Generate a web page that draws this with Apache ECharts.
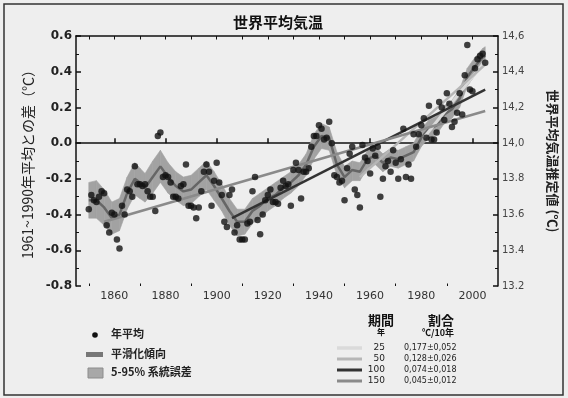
<!DOCTYPE html>
<html>
<head>
<meta charset="utf-8">
<script src="https://cdn.jsdelivr.net/npm/echarts@6.0.0/dist/echarts.min.js"></script>
<style>
  html, body { margin: 0; padding: 0; background: #eeeeee; }
  #chart { width: 568px; height: 398px; }
</style>
</head>
<body>
<div id="chart"></div>
<script>
// annual anomalies vs 1961-1990 mean, one value per year from 1850
const firstYear = 1850;
const annualValues = [
  -0.37, -0.29, -0.32, -0.33, -0.30, -0.27, -0.28, -0.46, -0.50, -0.39,
  -0.40, -0.54, -0.59, -0.35, -0.40, -0.26, -0.27, -0.30, -0.13, -0.23,
  -0.23, -0.24, -0.23, -0.27, -0.30, -0.30, -0.38, 0.04, 0.06, -0.19,
  -0.18, -0.19, -0.22, -0.30, -0.30, -0.31, -0.24, -0.23, -0.12, -0.35,
  -0.35, -0.36, -0.42, -0.36, -0.27, -0.16, -0.12, -0.16, -0.35, -0.21,
  -0.11, -0.22, -0.29, -0.44, -0.47, -0.29, -0.26, -0.50, -0.46, -0.54,
  -0.54, -0.54, -0.45, -0.44, -0.27, -0.19, -0.43, -0.51, -0.40, -0.32,
  -0.29, -0.26, -0.33, -0.33, -0.34, -0.25, -0.21, -0.24, -0.23, -0.35,
  -0.15, -0.11, -0.15, -0.31, -0.16, -0.16, -0.14, -0.02, 0.04, 0.04,
  0.10, 0.08, 0.02, 0.03, 0.12, 0.00, -0.18, -0.19, -0.22, -0.21,
  -0.32, -0.14, -0.06, -0.02, -0.26, -0.29, -0.36, -0.01, -0.08, -0.10,
  -0.17, -0.03, -0.07, -0.02, -0.30, -0.20, -0.13, -0.10, -0.16, -0.04,
  -0.11, -0.20, -0.09, 0.08, -0.19, -0.12, -0.20, 0.05, -0.02, 0.05,
  0.10, 0.14, 0.03, 0.21, 0.02, 0.02, 0.06, 0.23, 0.20, 0.13,
  0.28, 0.22, 0.09, 0.12, 0.17, 0.28, 0.16, 0.38, 0.55, 0.30,
  0.29, 0.42, 0.47, 0.49, 0.50, 0.45
];

// decadal smoothing and its 5-95% band
const smoothYears = [1850, 1853, 1856, 1859, 1862, 1865, 1868, 1870, 1872, 1875, 1878, 1881, 1884, 1887,
  1890, 1893, 1896, 1899, 1902, 1905, 1908, 1911, 1914, 1917, 1920, 1923, 1926, 1929, 1932, 1935,
  1938, 1941, 1944, 1947, 1950, 1953, 1956, 1959, 1962, 1965, 1968, 1971, 1974, 1977, 1980, 1983,
  1986, 1989, 1992, 1995, 1998, 2001, 2004, 2005];
const smoothValues = [-0.32, -0.32, -0.36, -0.42, -0.40, -0.28, -0.20, -0.22, -0.25, -0.19, -0.13, -0.19, -0.24, -0.27,
  -0.26, -0.22, -0.18, -0.24, -0.31, -0.38, -0.44, -0.44, -0.38, -0.35, -0.31, -0.29, -0.25, -0.22, -0.18, -0.12,
  -0.02, 0.04, 0.03, -0.12, -0.19, -0.15, -0.16, -0.09, -0.07, -0.11, -0.08, -0.09, -0.07, -0.05, 0.03, 0.08,
  0.10, 0.16, 0.19, 0.25, 0.37, 0.43, 0.48, 0.49];
const bandLow = [-0.42, -0.42, -0.46, -0.51, -0.49, -0.37, -0.29, -0.31, -0.33, -0.28, -0.22, -0.28, -0.32, -0.35,
  -0.34, -0.30, -0.26, -0.32, -0.38, -0.46, -0.52, -0.51, -0.45, -0.42, -0.38, -0.35, -0.31, -0.28, -0.24, -0.18,
  -0.09, -0.03, -0.04, -0.18, -0.25, -0.21, -0.21, -0.14, -0.12, -0.16, -0.13, -0.14, -0.12, -0.10, -0.02, 0.03,
  0.05, 0.11, 0.14, 0.20, 0.32, 0.38, 0.43, 0.44];
const bandHigh = [-0.22, -0.21, -0.26, -0.33, -0.31, -0.19, -0.11, -0.14, -0.17, -0.10, -0.04, -0.11, -0.16, -0.19,
  -0.18, -0.14, -0.10, -0.16, -0.23, -0.31, -0.37, -0.37, -0.31, -0.28, -0.25, -0.22, -0.19, -0.16, -0.12, -0.06,
  0.05, 0.11, 0.09, -0.05, -0.13, -0.10, -0.11, -0.04, -0.02, -0.06, -0.03, -0.04, -0.02, 0.00, 0.08, 0.13,
  0.15, 0.21, 0.24, 0.30, 0.42, 0.48, 0.53, 0.54];

// linear trends over the last 25/50/100/150 years
const trendPeriods = ['25', '50', '100', '150'];
const trendRates = ['0,177±0,052', '0,128±0,026', '0,074±0,018', '0,045±0,012'];
const trendStartYears = [1981, 1956, 1906, 1856];
const trendStartValues = [0.03, -0.19, -0.42, -0.44];
const trendEndYear = 2005;
const trendEndValues = [0.46, 0.44, 0.30, 0.18];
const trendColors = ['#dadada', '#b6b6b6', '#333333', '#8a8a8a'];
const trendWidths = [3, 2.5, 2.5, 2.5];

const xLabelYears = [1860, 1880, 1900, 1920, 1940, 1960, 1980, 2000];
const xMinorYears = [1850, 1870, 1890, 1910, 1930, 1950, 1970, 1990];
const xTopYears = [1850, 1860, 1870, 1880, 1890, 1900, 1910, 1920, 1930, 1940, 1950, 1960, 1970, 1980, 1990, 2000];
const rightTickLabels = ['13.2', '13.4', '13.6', '13.8', '14,0', '14,2', '14,4', '14,6'];

const cjk = '"Noto Sans CJK JP", sans-serif';
const latin = '"DejaVu Sans", sans-serif';

const annual = annualValues.map((v, i) => [firstYear + i, v]);
const smooth = smoothYears.map((y, i) => [y, smoothValues[i]]);
// each band item is one segment: [x0, low0, high0, x1, low1, high1]
const bandSegments = smoothYears.slice(0, -1).map((y, i) =>
  [y, bandLow[i], bandHigh[i], smoothYears[i + 1], bandLow[i + 1], bandHigh[i + 1]]);

const trendSeries = trendPeriods.map((p, i) => ({
  name: p + '年',
  type: 'line',
  data: [[trendStartYears[i], trendStartValues[i]], [trendEndYear, trendEndValues[i]]],
  symbol: 'none',
  lineStyle: { color: trendColors[i], width: trendWidths[i] },
  z: 3,
  silent: true
}));

const chart = echarts.init(document.getElementById('chart'));

const legendLeft = [
  { type: 'circle', shape: { cx: 95, cy: 335, r: 2.8 }, style: { fill: '#111' } },
  { type: 'text', left: 111, top: 328, style: { text: '年平均', font: 'bold 11px ' + cjk, fill: '#222' } },
  { type: 'rect', shape: { x: 86, y: 352, width: 17, height: 5 }, style: { fill: '#777' } },
  { type: 'text', left: 111, top: 348, style: { text: '平滑化傾向', font: 'bold 11px ' + cjk, fill: '#222' } },
  { type: 'rect', shape: { x: 88, y: 368, width: 15, height: 10 }, style: { fill: '#a8a8a8', stroke: '#8c8c8c', lineWidth: 1 } },
  { type: 'text', left: 111, top: 366, style: { text: '5-95% 系統誤差', font: 'bold 11px ' + cjk, fill: '#222' } }
];

const legendTable = [
  { type: 'text', x: 381, y: 320, style: { text: '期間', font: 'bold 13px ' + cjk, fill: '#111', align: 'center', verticalAlign: 'middle' } },
  { type: 'text', x: 441, y: 320, style: { text: '割合', font: 'bold 13px ' + cjk, fill: '#111', align: 'center', verticalAlign: 'middle' } },
  { type: 'text', x: 381, y: 332, style: { text: '年', font: 'bold 8px ' + cjk, fill: '#111', align: 'center', verticalAlign: 'middle' } },
  { type: 'text', x: 438, y: 333, style: { text: '℃/10年', font: 'bold 9px ' + cjk, fill: '#111', align: 'center', verticalAlign: 'middle' } }
];
trendPeriods.forEach((p, i) => {
  const y = 348 + i * 11;
  legendTable.push(
    { type: 'line', shape: { x1: 337, y1: y, x2: 362, y2: y }, style: { stroke: trendColors[i], lineWidth: trendWidths[i] + 0.5 } },
    { type: 'text', x: 385, y: y, style: { text: p, font: '9px ' + latin, fill: '#222', align: 'right', verticalAlign: 'middle' } },
    { type: 'text', x: 404, y: y, style: { text: trendRates[i], font: '8px ' + latin, fill: '#222', align: 'left', verticalAlign: 'middle' } }
  );
});

chart.setOption({
  backgroundColor: '#eeeeee',
  animation: false,
  title: {
    text: '世界平均気温',
    left: 228,
    top: 10,
    textStyle: { fontFamily: cjk, fontSize: 15, fontWeight: 'bold', color: '#111' }
  },
  grid: { left: 76, right: 70, top: 36, bottom: 112 },
  xAxis: [
    {
      type: 'value', min: 1845, max: 2010, position: 'bottom',
      axisLine: { lineStyle: { color: '#111', width: 1.5 } },
      axisTick: { inside: true, length: 5, customValues: xLabelYears, lineStyle: { color: '#111', width: 1.5 } },
      axisLabel: { customValues: xLabelYears, margin: 5, fontFamily: latin, fontSize: 11, color: '#333', formatter: (v) => String(v) },
      splitLine: { show: false }
    },
    {
      type: 'value', min: 1845, max: 2010, position: 'bottom',
      axisLine: { show: false },
      axisTick: { inside: true, length: 2.5, customValues: xMinorYears, lineStyle: { color: '#111' } },
      axisLabel: { show: false },
      splitLine: { show: false }
    },
    {
      type: 'value', min: 1845, max: 2010, position: 'top',
      axisLine: { lineStyle: { color: '#111', width: 1.5 } },
      axisTick: { inside: true, length: 3.5, customValues: xTopYears, lineStyle: { color: '#111' } },
      axisLabel: { show: false },
      splitLine: { show: false }
    }
  ],
  yAxis: [
    {
      type: 'value', min: -0.8, max: 0.6, interval: 0.2, position: 'left',
      name: '1961~1990年平均との差（℃）',
      nameLocation: 'middle', nameGap: 38,
      nameTextStyle: { fontFamily: cjk, fontSize: 14, color: '#222' },
      axisLine: { lineStyle: { color: '#111', width: 1.5 } },
      axisTick: { inside: true, length: 5, lineStyle: { color: '#111', width: 1.5 } },
      minorTick: { show: true, splitNumber: 2, length: 3, lineStyle: { color: '#111' } },
      axisLabel: { margin: 4, fontFamily: latin, fontSize: 12, fontWeight: 'bold', color: '#222', formatter: (v) => v.toFixed(1) },
      splitLine: { show: false }
    },
    {
      type: 'value', min: 13.2, max: 14.6, interval: 0.2, position: 'right',
      name: '世界平均気温推定値 (℃)',
      nameLocation: 'middle', nameGap: 48, nameRotate: -90,
      nameTextStyle: { fontFamily: cjk, fontSize: 13, fontWeight: 'bold', color: '#222' },
      axisLine: { lineStyle: { color: '#111', width: 1.5 } },
      axisTick: { inside: true, length: 5, lineStyle: { color: '#111', width: 1.5 } },
      minorTick: { show: true, splitNumber: 2, length: 3, lineStyle: { color: '#111' } },
      axisLabel: {
        margin: 4, fontFamily: latin, fontSize: 10, color: '#444',
        formatter: (v) => rightTickLabels[Math.round((v - 13.2) / 0.2)]
      },
      splitLine: { show: false }
    }
  ],
  series: [
    {
      name: '5-95% 系統誤差', type: 'custom', data: bandSegments, silent: true, z: 1,
      renderItem: (params, api) => {
        const a = api.coord([api.value(0), api.value(2)]);
        const b = api.coord([api.value(3), api.value(5)]);
        const c = api.coord([api.value(3), api.value(4)]);
        const d = api.coord([api.value(0), api.value(1)]);
        return {
          type: 'polygon',
          shape: { points: [a, b, c, d] },
          style: { fill: '#a2a2a2', stroke: '#a2a2a2', lineWidth: 0.6 }
        };
      }
    },
    {
      name: '平滑化傾向', type: 'line', data: smooth, symbol: 'none',
      lineStyle: { color: '#666', width: 2.5 }, silent: true, z: 2
    },
    ...trendSeries,
    {
      name: '年平均', type: 'scatter', data: annual, symbolSize: 6.5,
      itemStyle: { color: '#111' }, z: 4
    }
  ],
  graphic: [
    { type: 'rect', shape: { x: 4, y: 4, width: 559, height: 391 }, style: { fill: 'none', stroke: '#333', lineWidth: 1.5 }, z: 100 },
    ...legendLeft,
    ...legendTable
  ]
});
</script>
</body>
</html>
